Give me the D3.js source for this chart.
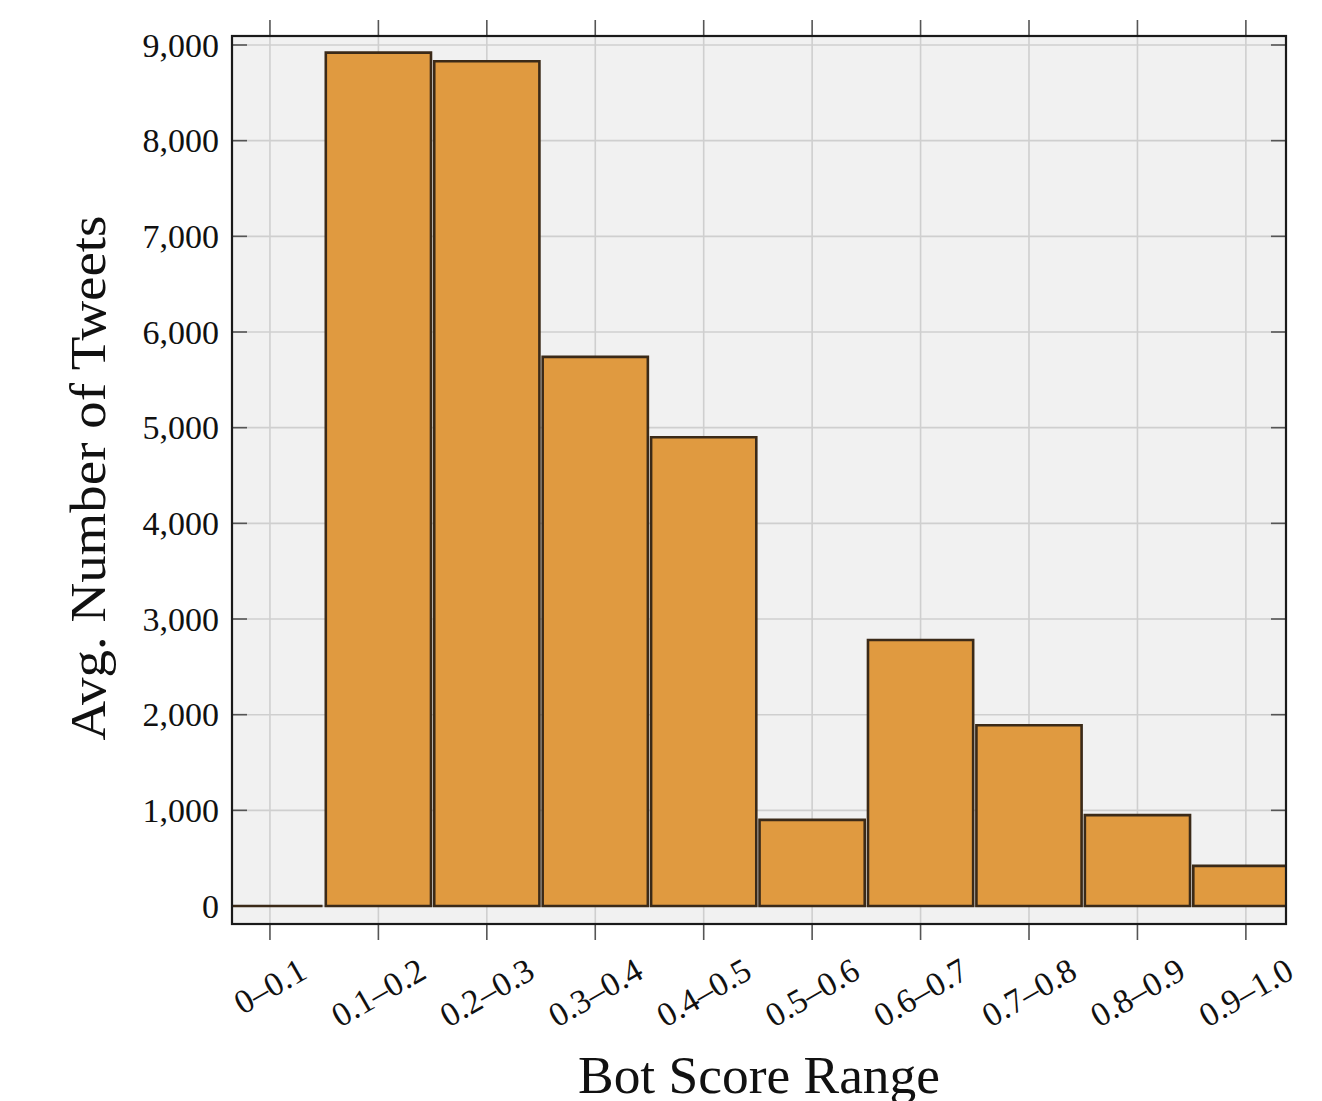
<!DOCTYPE html>
<html>
<head>
<meta charset="utf-8">
<script src="https://cdn.jsdelivr.net/npm/d3@7"></script>
<style>
  html, body { margin: 0; padding: 0; background: #ffffff; }
  svg { display: block; }
  text { font-family: "Liberation Serif", "DejaVu Serif", serif; fill: #111; }
</style>
</head>
<body>
<svg id="chart" width="1322" height="1101"></svg>
<script>
// ---- data ----
const categories = ["0–0.1", "0.1–0.2", "0.2–0.3", "0.3–0.4", "0.4–0.5",
                    "0.5–0.6", "0.6–0.7", "0.7–0.8", "0.8–0.9", "0.9–1.0"];
const avgTweets = [0, 8920, 8830, 5740, 4900, 900, 2780, 1890, 950, 420];
const yTicks = [0, 1000, 2000, 3000, 4000, 5000, 6000, 7000, 8000, 9000];
const xTitle = "Bot Score Range";
const yTitle = "Avg. Number of Tweets";

// ---- layout ----
const svg = d3.select("#chart");
const plot = { left: 232, right: 1286, top: 36, bottom: 924 };

const x = d3.scaleLinear().domain([-0.35, 9.37]).range([plot.left, plot.right]);
const y = d3.scaleLinear().domain([-188, 9094]).range([plot.bottom, plot.top]);
const barHalf = 0.485;

// background
svg.append("rect")
  .attr("x", plot.left).attr("y", plot.top)
  .attr("width", plot.right - plot.left).attr("height", plot.bottom - plot.top)
  .attr("fill", "#f1f1f1");

svg.append("clipPath").attr("id", "clip")
  .append("rect")
  .attr("x", plot.left).attr("y", plot.top)
  .attr("width", plot.right - plot.left).attr("height", plot.bottom - plot.top);

// grid
const grid = svg.append("g").attr("stroke", "#cfcfcf").attr("stroke-width", 1.6);
grid.selectAll("line.v").data(categories).join("line")
  .attr("x1", (d, i) => x(i)).attr("x2", (d, i) => x(i))
  .attr("y1", plot.top).attr("y2", plot.bottom);
grid.selectAll("line.h").data(yTicks).join("line")
  .attr("class", "h")
  .attr("x1", plot.left).attr("x2", plot.right)
  .attr("y1", d => y(d)).attr("y2", d => y(d));

// ticks (inward on y, outward on x top and bottom)
const tickG = svg.append("g").attr("stroke", "#555").attr("stroke-width", 1.6);
tickG.selectAll("line.yl").data(yTicks).join("line").attr("class", "yl")
  .attr("x1", plot.left).attr("x2", plot.left + 15)
  .attr("y1", d => y(d)).attr("y2", d => y(d));
tickG.selectAll("line.yr").data(yTicks).join("line").attr("class", "yr")
  .attr("x1", plot.right - 15).attr("x2", plot.right)
  .attr("y1", d => y(d)).attr("y2", d => y(d));
tickG.selectAll("line.xb").data(categories).join("line").attr("class", "xb")
  .attr("x1", (d, i) => x(i)).attr("x2", (d, i) => x(i))
  .attr("y1", plot.bottom).attr("y2", plot.bottom + 16);
tickG.selectAll("line.xt").data(categories).join("line").attr("class", "xt")
  .attr("x1", (d, i) => x(i)).attr("x2", (d, i) => x(i))
  .attr("y1", plot.top - 16).attr("y2", plot.top);

// bars (as paths so a zero-value bar still shows its outline)
svg.append("g").attr("clip-path", "url(#clip)")
  .selectAll("path").data(avgTweets).join("path")
  .attr("d", (d, i) => {
    const p = d3.path();
    const x0 = x(i - barHalf), x1 = x(i + barHalf);
    p.rect(x0, y(d), x1 - x0, y(0) - y(d));
    return p.toString();
  })
  .attr("fill", "#e09a40")
  .attr("stroke", "#3b2a18")
  .attr("stroke-width", 2.6);

// frame
svg.append("rect")
  .attr("x", plot.left).attr("y", plot.top)
  .attr("width", plot.right - plot.left).attr("height", plot.bottom - plot.top)
  .attr("fill", "none").attr("stroke", "#1a1a1a").attr("stroke-width", 2.2);

// y tick labels
svg.append("g").selectAll("text").data(yTicks).join("text")
  .attr("x", 219).attr("y", d => y(d))
  .attr("dy", "0.34em")
  .attr("text-anchor", "end")
  .attr("font-size", 34)
  .text(d => d3.format(",")(d));

// x tick labels rotated 30 deg, top of rotated box at fixed y
const ang = 30 * Math.PI / 180;
const fsX = 34;
const labelTop = 957;
svg.append("g").selectAll("text").data(categories).join("text")
  .attr("text-anchor", "middle")
  .attr("dy", "0.34em")
  .attr("font-size", fsX)
  .text(d => d)
  .each(function (d, i) {
    const w = this.getComputedTextLength();
    const h = fsX * 0.68;
    const cy = labelTop + (w * Math.sin(ang) + h * Math.cos(ang)) / 2;
    d3.select(this).attr("transform", `translate(${x(i)},${cy}) rotate(-30)`);
  });

// axis titles
svg.append("text")
  .attr("x", 759).attr("y", 1093)
  .attr("text-anchor", "middle")
  .attr("font-size", 52)
  .attr("textLength", 362).attr("lengthAdjust", "spacingAndGlyphs")
  .text(xTitle);

svg.append("text")
  .attr("transform", "translate(105,478) rotate(-90)")
  .attr("text-anchor", "middle")
  .attr("font-size", 50)
  .attr("textLength", 525).attr("lengthAdjust", "spacingAndGlyphs")
  .text(yTitle);
</script>
</body>
</html>
